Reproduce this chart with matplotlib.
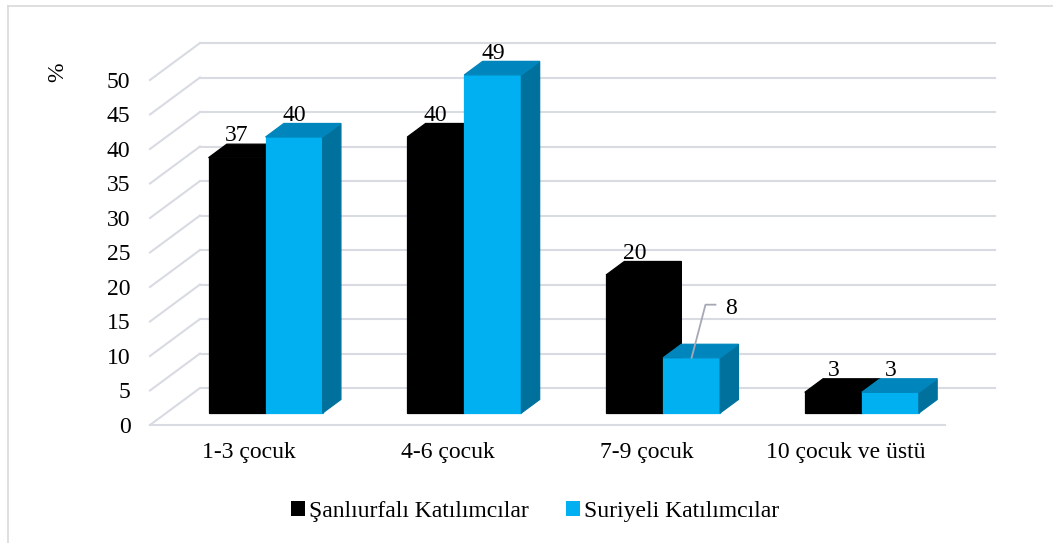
import matplotlib.pyplot as plt
from matplotlib.patches import Polygon, Patch
from matplotlib.lines import Line2D

plt.rcParams['font.family'] = ['Liberation Serif', 'DejaVu Serif']

categories = ['1-3 çocuk', '4-6 çocuk', '7-9 çocuk', '10 çocuk ve üstü']
sanliurfa = [37, 40, 20, 3]
suriyeli = [40, 49, 8, 3]
series_names = ['Şanlıurfalı Katılımcılar', 'Suriyeli Katılımcılar']
yticks = list(range(0, 55, 5))

# pseudo-3d geometry (data units)
DX, DY = 0.2516, 5.36      # depth of the floor
Z0, Z1 = 0.324, 0.69       # bar depth range (fraction of floor depth)
W = 0.287                  # bar width
GRID = '#d9dbe3'

black_faces = ('#000000', '#000000', '#000000')
blue_faces = ('#00b0f0', '#0086bd', '#00719c')


def proj(x, y, z):
    return (x + z * DX, y + z * DY)


def bar3d(ax, x0, h, faces):
    front, top, side = faces
    x1 = x0 + W
    pf = [proj(x0, 0, Z0), proj(x1, 0, Z0), proj(x1, h, Z0), proj(x0, h, Z0)]
    pt = [proj(x0, h, Z0), proj(x1, h, Z0), proj(x1, h, Z1), proj(x0, h, Z1)]
    ps = [proj(x1, 0, Z0), proj(x1, 0, Z1), proj(x1, h, Z1), proj(x1, h, Z0)]
    for pts, c in ((pf, front), (ps, side), (pt, top)):
        ax.add_patch(Polygon(pts, closed=True, facecolor=c, edgecolor=c,
                             lw=0.9, clip_on=False, zorder=3))


fig = plt.figure(figsize=(10.53, 5.43), dpi=100)
ax = fig.add_axes([150 / 1053, 118 / 543, 845 / 1053, 382 / 543])
n = len(categories)
ax.set_xlim(0, n + DX)
ax.set_ylim(0, 50 + DY)
for s in ax.spines.values():
    s.set_visible(False)

# floor / back wall grid
ax.plot([0, n], [0, 0], color=GRID, lw=1.5, clip_on=False, zorder=1)
for v in yticks:
    ax.plot([0, DX], [v, v + DY], color=GRID, lw=1.5, clip_on=False, zorder=1)
    ax.plot([DX, n + DX], [v + DY, v + DY], color=GRID, lw=1.5,
            clip_on=False, zorder=1)

ax.set_yticks(yticks)
ax.set_yticklabels([str(v) for v in yticks], fontsize=17)
ax.set_xticks([i + 0.5 for i in range(n)])
ax.set_xticklabels(categories, fontsize=17)
ax.tick_params(axis='y', length=0, pad=14)
ax.tick_params(axis='x', length=0, pad=12)

for i in range(n):
    xb = i + 0.5 - W
    xs = i + 0.5
    bar3d(ax, xb, sanliurfa[i], black_faces)
    bar3d(ax, xs, suriyeli[i], blue_faces)
    for x0, v in ((xb, sanliurfa[i]), (xs, suriyeli[i])):
        cx = x0 + W / 2 + Z0 * DX
        if v == 8:
            # label moved aside with a leader line
            y0 = v + Z0 * DY
            ax.plot([cx, cx + 0.07, cx + 0.12], [y0, y0 + 7.7, y0 + 7.7],
                    color='#a6a8b6', lw=1.3, zorder=4, clip_on=False)
            ax.text(cx + 0.196, y0 + 7.2, str(v), ha='center', va='center',
                    fontsize=17, zorder=5)
        else:
            ax.text(cx, v + Z1 * DY + 0.4, str(v), ha='center', va='baseline',
                    fontsize=17, zorder=5)

fig.text(58 / 1053, 1 - 72 / 543, '%', rotation=90, ha='center',
         va='center', fontsize=17)

handles = [Patch(facecolor=black_faces[0]), Patch(facecolor=blue_faces[0])]
fig.legend(handles, series_names, loc='center',
           bbox_to_anchor=(535 / 1053, 1 - 511 / 543), ncol=2, frameon=False,
           fontsize=17, handlelength=0.6, handleheight=0.6,
           handletextpad=0.15, columnspacing=1.6)

# chart frame (left and top edges visible)
fig.add_artist(Line2D([7.5 / 1053, 7.5 / 1053], [0, 1 - 6 / 543],
                      transform=fig.transFigure, color='#d9d9d9', lw=1.2))
fig.add_artist(Line2D([7.5 / 1053, 1], [1 - 6 / 543, 1 - 6 / 543],
                      transform=fig.transFigure, color='#d9d9d9', lw=1.2))

fig.savefig('out.png', dpi=100)
